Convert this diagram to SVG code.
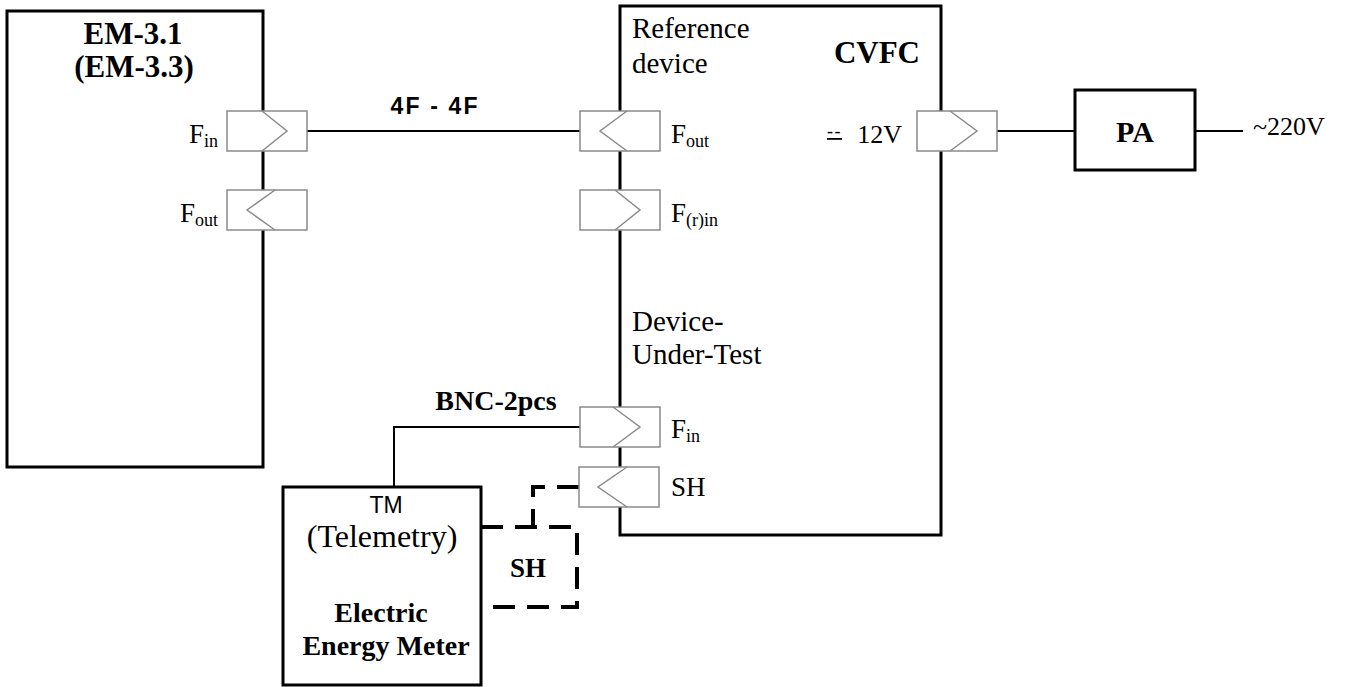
<svg xmlns="http://www.w3.org/2000/svg" width="1346" height="687" viewBox="0 0 1346 687">
<style>
.box{fill:none;stroke:#000;stroke-width:3}
.port{fill:#fff;stroke:#8a8a8a;stroke-width:1.5}
.chev{fill:none;stroke:#8a8a8a;stroke-width:1.5}
.wire{fill:none;stroke:#000;stroke-width:2}
.dash{fill:none;stroke:#000;stroke-width:4;stroke-dasharray:22 12}
.serif{font-family:"Liberation Serif","Times New Roman",serif;fill:#000}
.sans{font-family:"Liberation Sans",Arial,sans-serif;fill:#000}
.b{font-weight:bold}
.r{font-size:26px}
.lbl{font-size:29px}
.p{font-size:27px}
.sub{font-size:18px}
</style>
<rect width="1346" height="687" fill="#fff"/>

<g id="connectors">
<line class="wire" x1="307" y1="131" x2="580" y2="131"/>
<line class="wire" x1="997" y1="131" x2="1075" y2="131"/>
<line class="wire" x1="1195" y1="131" x2="1243" y2="131"/>
<polyline class="wire" points="580,427 394,427 394,487"/>
<path class="dash" d="M579,487 H533 V527"/>
<path class="dash" d="M481,527 H577 V607 H481"/>
<text class="sans b" x="434" y="114" font-size="23" text-anchor="middle" textLength="87" lengthAdjust="spacing">4F - 4F</text>
<text class="serif b" x="496" y="410" font-size="28" text-anchor="middle">BNC-2pcs</text>
<text class="serif b" x="528" y="577" font-size="27" text-anchor="middle">SH</text>
<text class="serif r" x="1253" y="135">~220V</text>
</g>

<g id="em">
<rect class="box" x="7" y="11" width="256" height="456"/>
<text class="serif b" x="133" y="44" font-size="31" text-anchor="middle">EM-3.1</text>
<text class="serif b" x="134" y="77" font-size="31" text-anchor="middle">(EM-3.3)</text>
<g id="em-fin">
<rect class="port" x="227" y="111" width="80" height="40"/>
<polyline class="chev" points="262,111 287,131 262,151"/>
<text class="serif p" x="218" y="143" text-anchor="end">F<tspan class="sub" dy="4">in</tspan></text>
</g>
<g id="em-fout">
<rect class="port" x="227" y="190" width="80" height="40"/>
<polyline class="chev" points="275,190 247,210 275,230"/>
<text class="serif p" x="218" y="222" text-anchor="end">F<tspan class="sub" dy="4">out</tspan></text>
</g>
</g>

<g id="cvfc">
<rect class="box" x="620" y="6" width="321" height="529"/>
<text class="serif lbl" x="632" y="38">Reference</text>
<text class="serif lbl" x="632" y="73">device</text>
<text class="serif b" x="920" y="63" font-size="31" text-anchor="end">CVFC</text>
<text class="serif lbl" x="632" y="331">Device-</text>
<text class="serif lbl" x="632" y="364">Under-Test</text>
<g id="cvfc-fout">
<rect class="port" x="580" y="111" width="80" height="40"/>
<polyline class="chev" points="627,111 600,131 627,151"/>
<text class="serif p" x="671" y="143">F<tspan class="sub" dy="4">out</tspan></text>
</g>
<g id="cvfc-frin">
<rect class="port" x="580" y="190" width="80" height="40"/>
<polyline class="chev" points="615,190 640,210 615,230"/>
<text class="serif p" x="671" y="222">F<tspan class="sub" dy="4">(r)in</tspan></text>
</g>
<g id="cvfc-12v">
<rect class="port" x="917" y="111" width="80" height="40"/>
<polyline class="chev" points="950,111 977,131 950,151"/>
<text class="serif" x="827" y="137" font-size="18" letter-spacing="1.5" text-decoration="underline">--</text>
<text class="serif r" x="902" y="143" text-anchor="end">12V</text>
</g>
<g id="dut-fin">
<rect class="port" x="580" y="407" width="80" height="40"/>
<polyline class="chev" points="613,407 640,427 613,447"/>
<text class="serif p" x="671" y="438">F<tspan class="sub" dy="4">in</tspan></text>
</g>
<g id="dut-sh">
<rect class="port" x="579" y="467" width="80" height="40"/>
<polyline class="chev" points="627,467 598,487 627,507"/>
<text class="serif p" x="671" y="496">SH</text>
</g>
</g>

<g id="pa">
<rect class="box" x="1075" y="90" width="120" height="80"/>
<text class="serif b" x="1135" y="142" font-size="30" text-anchor="middle">PA</text>
</g>

<g id="tm">
<rect class="box" x="283" y="487" width="198" height="198"/>
<text class="sans" x="386" y="513" font-size="23" text-anchor="middle">TM</text>
<text class="serif" x="382" y="547" font-size="32" text-anchor="middle">(Telemetry)</text>
<text class="serif b" x="381" y="622" font-size="28" text-anchor="middle">Electric</text>
<text class="serif b" x="386" y="655" font-size="28" text-anchor="middle">Energy Meter</text>
</g>
</svg>
